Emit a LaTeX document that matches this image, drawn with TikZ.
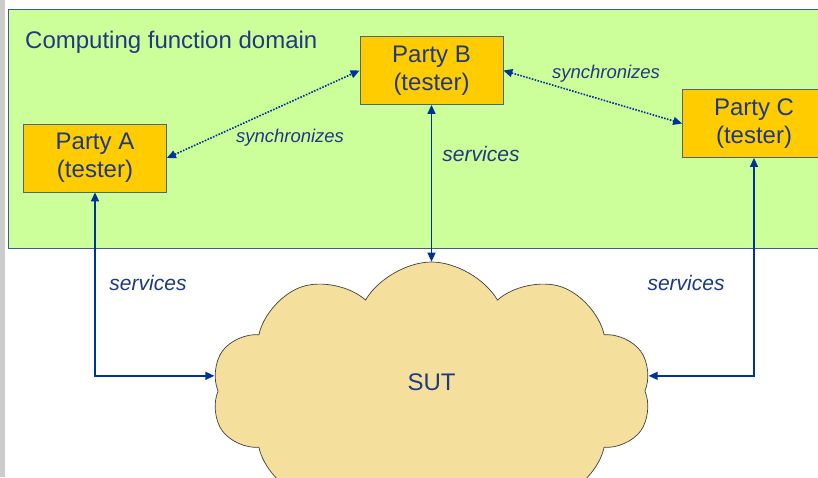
\documentclass[tikz,border=0pt]{standalone}
\usepackage{fontspec}
\setmainfont{Liberation Sans}
\usetikzlibrary{positioning,shapes.symbols,arrows.meta}

\definecolor{domaingreen}{RGB}{204,255,153}
\definecolor{domainedge}{RGB}{60,90,150}
\definecolor{partyyellow}{RGB}{255,204,0}
\definecolor{partyedge}{RGB}{80,100,125}
\definecolor{cloudtan}{RGB}{244,223,157}
\definecolor{linkblue}{RGB}{0,51,153}
\definecolor{labelblue}{RGB}{31,58,130}

\tikzset{
  party/.style={draw=partyedge, fill=partyyellow, line width=0.8pt,
    minimum width=143pt, minimum height=68pt, align=center,
    text=labelblue, font=\fontsize{24}{28}\selectfont},
  lbl/.style={text=labelblue, font=\itshape\fontsize{21}{25}\selectfont},
  synclbl/.style={text=labelblue, font=\itshape\fontsize{18.5}{22}\selectfont},
  svc/.style={draw=linkblue, line width=1.5pt, >={Triangle[length=9pt,width=8pt]}, <->},
  sync/.style={draw=linkblue, line width=1.6pt, dash pattern=on 1.6pt off 1.4pt,
    >={Triangle[length=9pt,width=8pt]}, <->}
}

\begin{document}
\begin{tikzpicture}[x=1pt, y=-1pt]
  \useasboundingbox (0,0) rectangle (818,477);
  \clip (0,0) rectangle (818,477);
  \fill[white] (0,0) rectangle (818,477);
  \fill[black!20] (0,0) rectangle (5,477);

  % Domain
  \draw[domainedge, fill=domaingreen, line width=0.8pt] (8,9) rectangle (840,248);
  \node[anchor=base west, inner sep=0pt, text=labelblue, font=\fontsize{24}{29}\selectfont]
    (title) at (25,48) {Computing function domain};

  % Parties
  \node[party] (a) at (95,158) {\raisebox{-2pt}{Party A}\\\raisebox{-2pt}{(tester)}};
  \node[party] (b) at (431.5,70.5) {\raisebox{-2pt}{Party B}\\\raisebox{-2pt}{(tester)}};
  \node[party] (c) at (754,123.5) {\raisebox{-2pt}{Party C}\\\raisebox{-2pt}{(tester)}};

  % System under test
  \node[cloud, draw=black!75, fill=cloudtan, line width=0.7pt, cloud puffs=10,
    cloud puff arc=120, aspect=1.8, minimum width=440pt, minimum height=258pt,
    inner sep=0pt, text=labelblue, font=\fontsize{24}{29}\selectfont]
    (sut) at (431.5,391) {\raisebox{18pt}{SUT}};

  % Synchronization
  \draw[sync] (a.east) -- (b.west);
  \draw[sync] (b.east) -- (c.west);
  \node[synclbl] (syncab) at (290,138) {synchronizes};
  \node[synclbl] (syncbc) at (606,74) {synchronizes};

  % Services
  \draw[svc] (a.south) |- (sut.176);
  \draw[svc] (b.south) -- (sut.north);
  \draw[svc] (c.south) |- (sut.4);
  \node[lbl] (srva) at (148,283) {services};
  \node[lbl] (srvb) at (481,154) {services};
  \node[lbl] (srvc) at (686,283) {services};
\end{tikzpicture}
\end{document}
